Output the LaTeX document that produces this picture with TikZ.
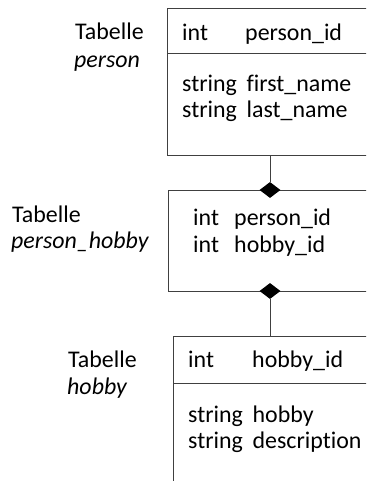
\documentclass[tikz,border=0pt]{standalone}
\usepackage{fontspec}
\setmainfont[WordSpace=1.8, Ligatures=NoCommon]{Carlito}
\usetikzlibrary{shapes.geometric}
\definecolor{linegray}{RGB}{64, 64, 64}
\tikzset{
  table/.style={draw=linegray, line width=0.9bp, rectangle, anchor=north west, minimum width=230bp, inner sep=0pt},
  lbl/.style={anchor=base west, inner sep=0pt, yshift=-1.5bp, font=\fontsize{24}{28}\selectfont},
  joint/.style={diamond, fill=black, inner sep=0pt, minimum width=21bp, minimum height=16bp}
}

\begin{document}
\begin{tikzpicture}[x=1bp, y=1bp]
    \useasboundingbox (0,0) rectangle (366,481);
    \clip (0,0) rectangle (366,481);

    % tables
    \node[table, minimum height=147bp] (person) at (167,473) {};
    \node[table, minimum height=101bp] (personhobby) at (168,291) {};
    \node[table, minimum height=170bp] (hobby) at (173,145) {};

    % header lines
    \draw[linegray, line width=0.9bp] ([yshift=-45bp]person.north west) -- ([yshift=-45bp]person.north east);
    \draw[linegray, line width=0.9bp] ([yshift=-47bp]hobby.north west) -- ([yshift=-47bp]hobby.north east);

    % Tabelle person
    \node[lbl] (t1) at (75,443) {Tabelle};
    \node[lbl] (n1) at (74,415) {\textit{person}};
    \node[lbl] (p-int) at (182,442) {int};
    \node[lbl] (p-id) at (245,442) {person\_id};
    \node[lbl] (p-first) at (182,391) {string first\_name};
    \node[lbl] (p-last) at (182,365) {string last\_name};

    % Tabelle person_hobby
    \node[lbl] (t2) at (12,260) {Tabelle};
    \node[lbl] (n2) at (11,234) {\textit{person\_hobby}};
    \node[lbl] (ph-int1) at (193,257) {int};
    \node[lbl] (ph-pid) at (234,257) {person\_id};
    \node[lbl] (ph-int2) at (193,230) {int};
    \node[lbl] (ph-hid) at (234,230) {hobby\_id};

    % Tabelle hobby
    \node[lbl] (t3) at (68,115) {Tabelle};
    \node[lbl] (n3) at (67,88) {\textit{hobby}};
    \node[lbl] (h-int) at (188,115) {int};
    \node[lbl] (h-id) at (252,115) {hobby\_id};
    \node[lbl] (h-name) at (188,60) {string hobby};
    \node[lbl] (h-desc) at (188,34) {string description};

    % relations
    \node[joint] (jA) at (270,291) {};
    \node[joint] (jB) at (270,190) {};
    \draw[linegray, line width=0.9bp] (jA) -- (jA |- person.south);
    \draw[linegray, line width=0.9bp] (jB) -- (jB |- hobby.north);
\end{tikzpicture}
\end{document}
